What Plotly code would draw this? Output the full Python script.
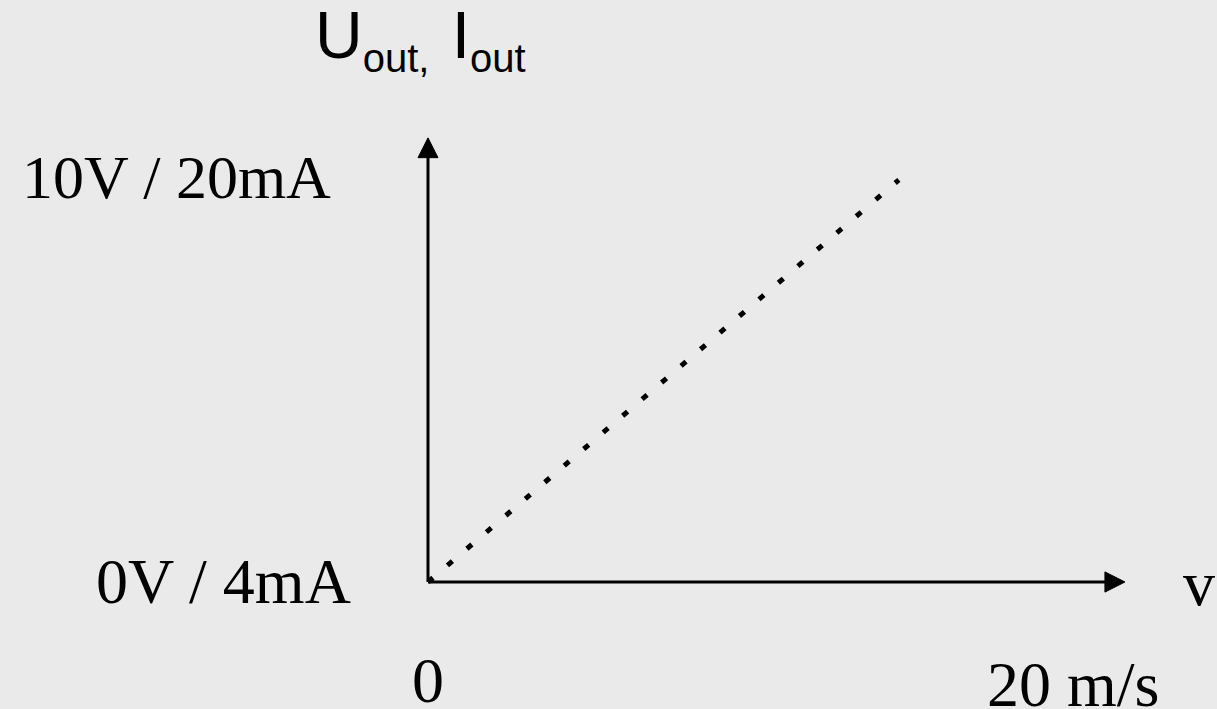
import plotly.graph_objects as go

# ---- data ----
speed = [0, 14.6]          # m/s (x)
output = [0, 9.94]         # V  (y)  0..10 V  <->  4..20 mA
x_tick_vals = [0, 20]
x_tick_text = ["0", "20 m/s"]
y_tick_vals = [0, 10]
y_tick_text = ["0V / 4mA", "10V / 20mA"]
x_axis_label = "v"
y_axis_label = ("U<sub><span style='font-size:40px'>out,&nbsp;&nbsp;</span></sub>"
                "I<sub><span style='font-size:40px'>out</span></sub>")

# ---- geometry ----
W, H = 1217, 709
X_RANGE = [-13.271, 24.465]
Y_RANGE = [-3.140, 14.388]
x_axis_end = 21.61
y_axis_end = 10.98
head_len_x, head_half_x = 0.62, 0.31
head_len_y, head_half_y = 0.49, 0.25

BG = "#EAEAEA"
serif = "Liberation Serif, Times New Roman, serif"
sans = "Liberation Sans, Arial, sans-serif"

fig = go.Figure()
fig.add_trace(go.Scatter(
    x=speed, y=output, mode="lines",
    line=dict(color="black", width=5, dash="6.5px,19.1px"),
    hoverinfo="skip", showlegend=False))

shapes = [
    dict(type="line", xref="x", yref="y", x0=0, y0=0, x1=0, y1=y_axis_end - head_len_y * 0.8,
         line=dict(color="black", width=3)),
    dict(type="line", xref="x", yref="y", x0=0, y0=0, x1=x_axis_end - head_len_x * 0.8, y1=0,
         line=dict(color="black", width=3)),
    dict(type="path", xref="x", yref="y",
         path=f"M {0 - head_half_x} {y_axis_end - head_len_y} L 0 {y_axis_end} L {head_half_x} {y_axis_end - head_len_y} Z",
         fillcolor="black", line=dict(color="black", width=1)),
    dict(type="path", xref="x", yref="y",
         path=f"M {x_axis_end - head_len_x} {-head_half_y} L {x_axis_end} 0 L {x_axis_end - head_len_x} {head_half_y} Z",
         fillcolor="black", line=dict(color="black", width=1)),
]

ann = []
# y tick labels
ann.append(dict(x=333 / W, xref="paper", y=y_tick_vals[1], yref="y", text=y_tick_text[1],
                xanchor="right", yanchor="middle", showarrow=False,
                font=dict(family=serif, size=62, color="black")))
ann.append(dict(x=353 / W, xref="paper", y=y_tick_vals[0], yref="y", text=y_tick_text[0],
                xanchor="right", yanchor="middle", showarrow=False,
                font=dict(family=serif, size=64, color="black")))
# x tick labels
ann.append(dict(x=x_tick_vals[0], xref="x", y=1 - 680.5 / H, yref="paper", text=x_tick_text[0],
                xanchor="center", yanchor="middle", showarrow=False,
                font=dict(family=serif, size=64, color="black")))
ann.append(dict(x=x_tick_vals[1], xref="x", y=1 - 684 / H, yref="paper", text=x_tick_text[1],
                xanchor="center", yanchor="middle", showarrow=False,
                font=dict(family=serif, size=64, color="black")))
# axis titles
ann.append(dict(x=1199 / W, xref="paper", y=1 - 583 / H, yref="paper", text=x_axis_label,
                xanchor="center", yanchor="middle", showarrow=False,
                font=dict(family=serif, size=64, color="black")))
ann.append(dict(x=313 / W, xref="paper", y=1 - 39 / H, yref="paper", text=y_axis_label,
                xanchor="left", yanchor="middle", showarrow=False,
                font=dict(family=sans, size=66, color="black")))

fig.update_layout(
    width=W, height=H,
    margin=dict(l=0, r=0, t=0, b=0),
    paper_bgcolor=BG, plot_bgcolor=BG,
    xaxis=dict(range=X_RANGE, visible=False, fixedrange=True),
    yaxis=dict(range=Y_RANGE, visible=False, fixedrange=True),
    shapes=shapes, annotations=ann, showlegend=False,
)
fig.write_html(
    "out.html",
    config={"displayModeBar": False},
    post_script="document.body.style.margin='0';document.body.style.padding='0';"
                "document.body.style.overflow='hidden';document.body.style.background='#EAEAEA';",
)
